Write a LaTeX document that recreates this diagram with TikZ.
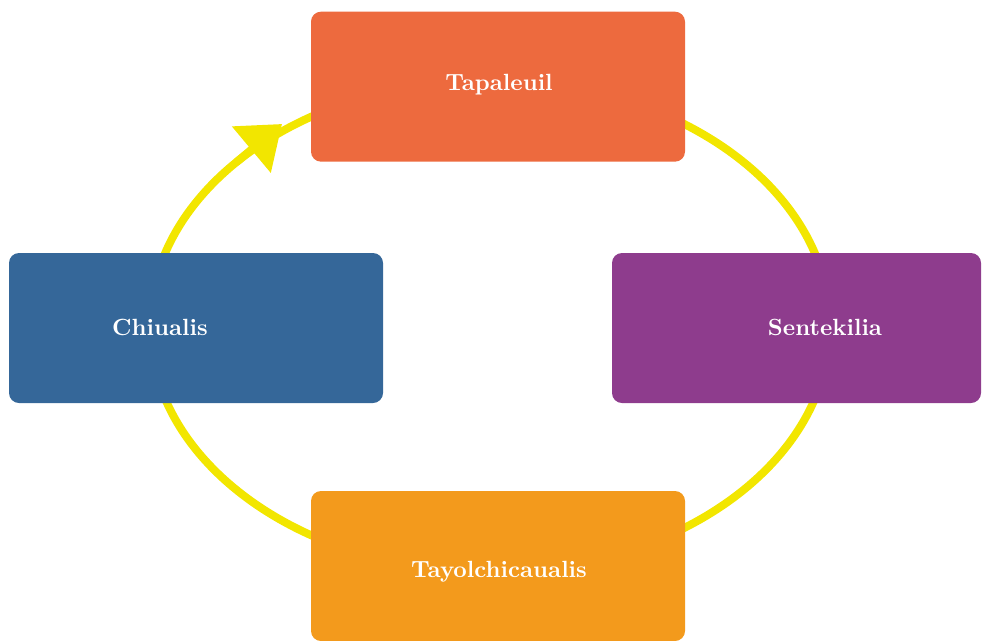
\documentclass[tikz,border=0pt]{standalone}
\usepackage{tikz}
\usetikzlibrary{arrows.meta}
\definecolor{cycleyellow}{RGB}{242,230,0}
\definecolor{tapaleuilred}{RGB}{237,106,62}
\definecolor{chiualisblue}{RGB}{53,103,153}
\definecolor{sentekiliapurple}{RGB}{142,60,141}
\definecolor{tayolorange}{RGB}{243,154,28}

\begin{document}
\begin{tikzpicture}[
    box/.style={rectangle, rounded corners=0.15cm, inner sep=0pt,
                minimum width=5.61cm, minimum height=2.25cm},
    lbl/.style={text=white, font=\bfseries, anchor=base, inner sep=0pt},
    cycleline/.style={cycleyellow, line width=3.4pt}
]
    \useasboundingbox (0,0) rectangle (14.73,9.6);
    \coordinate (c) at (7.35,4.71);
    \coordinate (tip) at (4.23,7.74);

    % Cycle
    \draw[cycleline] (c) ellipse [x radius=5.1, y radius=3.69];
    \draw[cycleline, -{Triangle[length=0.6cm, width=0.88cm]}]
        ([shift={(138.3:5.1 and 3.69)}]c) -- (tip);

    % Top box
    \node[box, fill=tapaleuilred] (tapaleuil) at (7.47,8.3) {};
    \node[lbl] (tapaleuiltext) at (7.485,8.25) {Tapaleuil};

    % Left box
    \node[box, fill=chiualisblue] (chiualis) at (2.94,4.68) {};
    \node[lbl] (chiualistext) at (2.40,4.575) {Chiualis};

    % Right box
    \node[box, fill=sentekiliapurple, minimum width=5.535cm] (sentekilia) at (11.9475,4.68) {};
    \node[lbl] (sentekiliatext) at (12.375,4.575) {Sentekilia};

    % Bottom box
    \node[box, fill=tayolorange] (tayol) at (7.47,1.11) {};
    \node[lbl] (tayoltext) at (7.485,0.945) {Tayolchicaualis};
\end{tikzpicture}
\end{document}
